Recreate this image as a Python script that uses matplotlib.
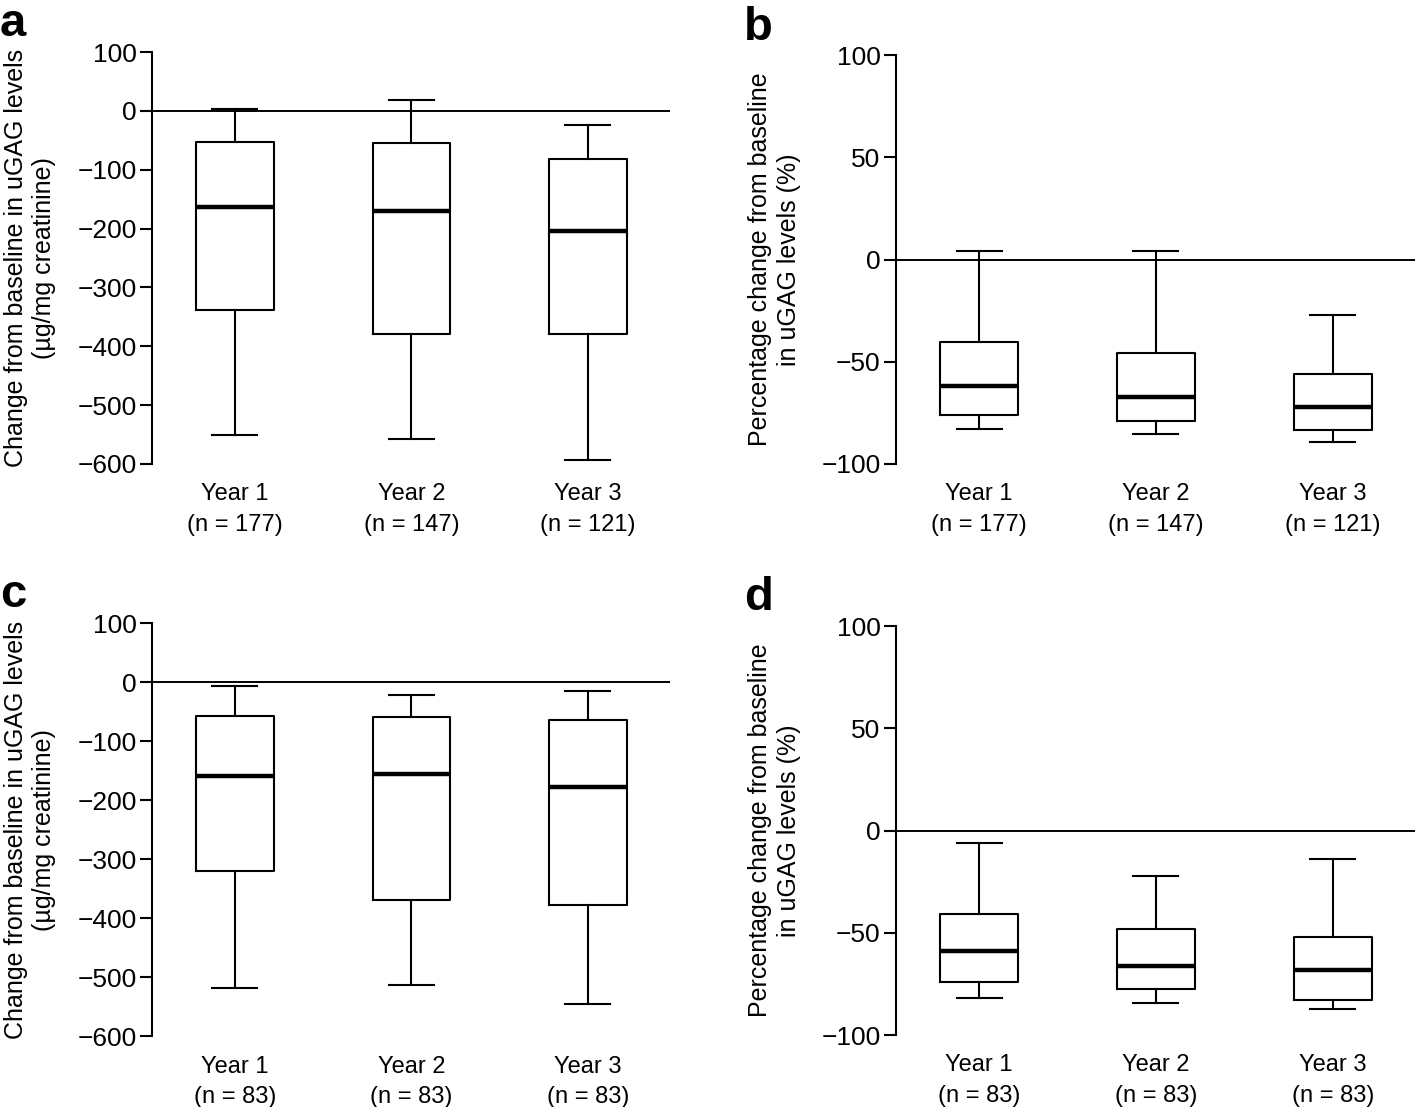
import matplotlib
matplotlib.use('Agg')
import matplotlib.pyplot as plt
from matplotlib import font_manager

names = {f.name for f in font_manager.fontManager.ttflist}
FONT = 'Liberation Sans Narrow' if 'Liberation Sans Narrow' in names else 'Liberation Sans'
plt.rcParams['font.family'] = [FONT, 'DejaVu Sans']

# ─── data ─────────────────────────────────────────────────
YEARS = ['Year 1', 'Year 2', 'Year 3']
N_ALL = [177, 147, 121]
N_SUB = [83, 83, 83]

# panel a: absolute change (µg/mg creatinine), all patients
A_HI  = [3, 18, -24]
A_Q3  = [-53, -55, -82]
A_MED = [-163, -170, -204]
A_Q1  = [-338, -380, -380]
A_LO  = [-551, -557, -593]

# panel b: percentage change, all patients
B_HI  = [4, 4, -27]
B_Q3  = [-40.5, -45.5, -56]
B_MED = [-62, -67.5, -72]
B_Q1  = [-76, -79, -83.5]
B_LO  = [-83, -85.5, -89.5]

# panel c: absolute change, subgroup
C_HI  = [-7, -22, -15]
C_Q3  = [-58, -59, -64]
C_MED = [-159, -156, -178]
C_Q1  = [-320, -369, -378]
C_LO  = [-519, -514, -546]

# panel d: percentage change, subgroup
D_HI  = [-6, -22, -14]
D_Q3  = [-41, -48, -52]
D_MED = [-59, -66, -68]
D_Q1  = [-74, -77.5, -83]
D_LO  = [-82, -84.5, -87.5]

LAB_ABS = 'Change from baseline in uGAG levels\n(µg/mg creatinine)'
LAB_PCT = 'Percentage change from baseline\nin uGAG levels (%)'

PANELS = [
    dict(letter='a', rect=[0.1074, 0.581, 0.366, 0.372], stats=(A_LO, A_Q1, A_MED, A_Q3, A_HI),
         n=N_ALL, ylim=(-600, 100), ticks=range(-600, 101, 100), ylabel=LAB_ABS),
    dict(letter='b', rect=[0.6332, 0.581, 0.3668, 0.369], stats=(B_LO, B_Q1, B_MED, B_Q3, B_HI),
         n=N_ALL, ylim=(-100, 100), ticks=range(-100, 101, 50), ylabel=LAB_PCT),
    dict(letter='c', rect=[0.1074, 0.064, 0.366, 0.373], stats=(C_LO, C_Q1, C_MED, C_Q3, C_HI),
         n=N_SUB, ylim=(-600, 100), ticks=range(-600, 101, 100), ylabel=LAB_ABS),
    dict(letter='d', rect=[0.6332, 0.065, 0.3668, 0.3695], stats=(D_LO, D_Q1, D_MED, D_Q3, D_HI),
         n=N_SUB, ylim=(-100, 100), ticks=range(-100, 101, 50), ylabel=LAB_PCT),
]

fig = plt.figure(figsize=(14.15, 11.07), dpi=100)

for p in PANELS:
    ax = fig.add_axes(p['rect'])
    lo, q1, med, q3, hi = p['stats']
    bstats = [dict(whislo=lo[i], q1=q1[i], med=med[i], q3=q3[i], whishi=hi[i], fliers=[])
              for i in range(len(YEARS))]
    ax.bxp(bstats, positions=[1, 2, 3], widths=0.44, showfliers=False,
           boxprops=dict(color='black', lw=1.5),
           whiskerprops=dict(color='black', lw=1.5),
           capprops=dict(color='black', lw=1.5),
           medianprops=dict(color='black', lw=3.2),
           capwidths=0.255)
    ax.axhline(0, color='black', lw=1.4, zorder=0)
    ax.set_xlim(0.53, 3.465)
    ax.set_ylim(*p['ylim'])
    ax.set_yticks(list(p['ticks']))
    ax.set_xticks([1, 2, 3])
    ax.set_xticklabels([f'{y}\n(n = {n})' for y, n in zip(YEARS, p['n'])],
                       fontsize=17, linespacing=1.5)
    ax.tick_params(axis='x', length=0, pad=14)
    ax.tick_params(axis='y', length=9, width=1.5, labelsize=19, pad=2)
    for s in ['top', 'right', 'bottom']:
        ax.spines[s].set_visible(False)
    ax.spines['left'].set_linewidth(1.5)
    ax.set_ylabel(p['ylabel'], fontsize=18, linespacing=1.25, labelpad=15)

    x0 = p['rect'][0] - 0.1074
    y0 = p['rect'][1] + p['rect'][3]
    fig.text(x0 + 0.0, y0 + 0.045, p['letter'], fontsize=34, fontweight='bold',
             va='top', ha='left', family='Liberation Sans')

fig.savefig('out.png', dpi=100)
